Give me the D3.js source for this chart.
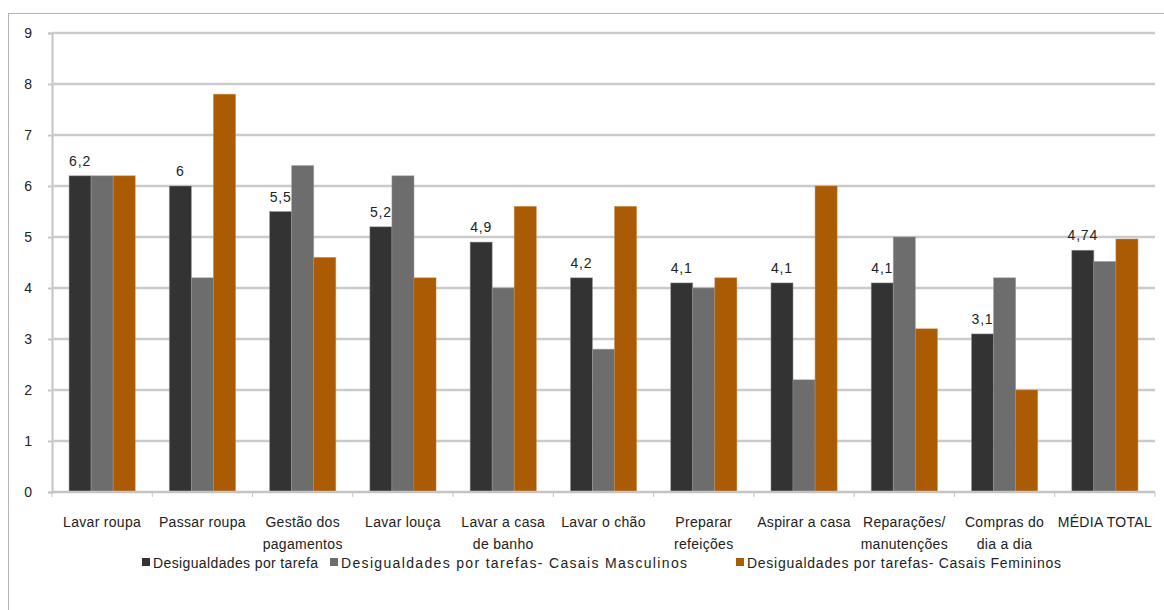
<!DOCTYPE html>
<html>
<head>
<meta charset="utf-8">
<script src="https://cdn.jsdelivr.net/npm/d3@7"></script>
<style>
  html, body { margin: 0; padding: 0; background: #fff; }
  svg { display: block; font-family: "Liberation Sans", Arial, sans-serif; }
</style>
</head>
<body>
<svg id="chart" width="1164" height="610"></svg>
<script>
// Task categories (multi-line labels split with "\n")
const categories = [
  "Lavar roupa", "Passar roupa", "Gestão dos\npagamentos", "Lavar louça",
  "Lavar a casa\nde banho", "Lavar o chão", "Preparar\nrefeições", "Aspirar a casa",
  "Reparações/\nmanutenções", "Compras do\ndia a dia", "MÉDIA TOTAL"
];
const seriesNames = [
  "Desigualdades por tarefa",
  "Desigualdades por tarefas- Casais Masculinos",
  "Desigualdades por tarefas- Casais Femininos"
];
const porTarefa = [6.2, 6, 5.5, 5.2, 4.9, 4.2, 4.1, 4.1, 4.1, 3.1, 4.74];
const casaisMasculinos = [6.2, 4.2, 6.4, 6.2, 4.0, 2.8, 4.0, 2.2, 5.0, 4.2, 4.52];
const casaisFemininos = [6.2, 7.8, 4.6, 4.2, 5.6, 5.6, 4.2, 6.0, 3.2, 2.0, 4.96];
const yTicks = [0, 1, 2, 3, 4, 5, 6, 7, 8, 9];
const dataLabels = ["6,2", "6", "5,5", "5,2", "4,9", "4,2", "4,1", "4,1", "4,1", "3,1", "4,74"];

const colors = ["#333333", "#6d6d6d", "#aa5b04"];
const seriesValues = [porTarefa, casaisMasculinos, casaisFemininos];

const svg = d3.select("#chart");

// Outer chart frame
svg.append("rect")
  .attr("x", 8.5).attr("y", 13.5)
  .attr("width", 1170).attr("height", 620)
  .attr("fill", "none").attr("stroke", "#b4b4b4").attr("stroke-width", 1);

const plot = { left: 52, right: 1155, top: 33, bottom: 492 };

const x = d3.scaleBand()
  .domain(d3.range(categories.length))
  .range([plot.left, plot.right])
  .paddingInner(0.34)
  .paddingOuter(0.17);

const xSub = d3.scaleBand()
  .domain(d3.range(seriesValues.length))
  .range([0, x.bandwidth()])
  .padding(0);

const y = d3.scaleLinear().domain([0, 9]).range([plot.bottom, plot.top]);

// Y axis with tick labels
const yAxis = d3.axisLeft(y).tickValues(yTicks).tickSize(4).tickPadding(16).tickFormat(d3.format("d"));
const gy = svg.append("g").attr("transform", `translate(${plot.left},0)`).call(yAxis);
gy.select(".domain").attr("stroke", "#c4c4c4").attr("stroke-width", 2);
gy.selectAll(".tick line").attr("stroke", "#c8c8c8").attr("stroke-width", 2);
gy.selectAll(".tick text").attr("fill", "#222").style("font-size", "14px");

// Horizontal gridlines
svg.append("g").selectAll("line")
  .data(yTicks.filter(d => d > 0))
  .join("line")
  .attr("x1", plot.left).attr("x2", plot.right)
  .attr("y1", d => y(d)).attr("y2", d => y(d))
  .attr("stroke", "#cbcbcb").attr("stroke-width", 2.5);

// Bars
const groups = svg.append("g").selectAll("g")
  .data(categories.map((c, i) => i))
  .join("g")
  .attr("transform", i => `translate(${x(i)},0)`);

groups.selectAll("rect")
  .data(i => seriesValues.map((vals, s) => ({ s, v: vals[i] })))
  .join("rect")
  .attr("x", d => xSub(d.s))
  .attr("width", xSub.bandwidth())
  .attr("y", d => y(d.v))
  .attr("height", d => y(0) - y(d.v))
  .attr("fill", d => colors[d.s])
  .attr("stroke", d => d.s === 2 ? "#c58a4d" : "#9a9a9a")
  .attr("stroke-width", 0.8)
  .attr("stroke-opacity", 0.6);

// Value labels above the first series
groups.append("text")
  .attr("x", xSub(0) + xSub.bandwidth() / 2)
  .attr("y", i => y(porTarefa[i]) - 10)
  .attr("text-anchor", "middle")
  .attr("fill", "#222")
  .style("font-size", "14px")
  .style("letter-spacing", "0.8px")
  .text(i => dataLabels[i]);

// X axis baseline with category ticks
const xAxisLine = svg.append("g");
xAxisLine.append("line")
  .attr("x1", plot.left).attr("x2", plot.right)
  .attr("y1", plot.bottom).attr("y2", plot.bottom)
  .attr("stroke", "#c4c4c4").attr("stroke-width", 2.5);
const step = (plot.right - plot.left) / categories.length;
xAxisLine.selectAll("line.t")
  .data(d3.range(categories.length + 1))
  .join("line").attr("class", "t")
  .attr("x1", i => plot.left + i * step).attr("x2", i => plot.left + i * step)
  .attr("y1", plot.bottom).attr("y2", plot.bottom + 5)
  .attr("stroke", "#c4c4c4").attr("stroke-width", 1);

// Category labels
const labels = svg.append("g").selectAll("text")
  .data(categories.map((c, i) => ({ c, i })))
  .join("text")
  .attr("x", d => plot.left + (d.i + 0.5) * step)
  .attr("y", 527)
  .attr("text-anchor", "middle")
  .attr("fill", "#222")
  .style("font-size", "14px")
  .style("letter-spacing", "0.3px");
labels.each(function(d) {
  const lines = d.c.split("\n");
  d3.select(this).selectAll("tspan")
    .data(lines)
    .join("tspan")
    .attr("x", plot.left + (d.i + 0.5) * step)
    .attr("dy", (l, k) => k === 0 ? 0 : 22)
    .text(l => l);
});

// Legend
const legendX = [142, 330, 736];
const legendWidths = [165, 346, 314];
const legend = svg.append("g").selectAll("g")
  .data(seriesNames.map((n, s) => ({ n, s })))
  .join("g")
  .attr("transform", d => `translate(${legendX[d.s]},563)`);
legend.append("rect")
  .attr("x", 0).attr("y", -5).attr("width", 8).attr("height", 8)
  .attr("fill", d => colors[d.s]);
legend.append("text")
  .attr("x", 11).attr("y", 5)
  .attr("fill", "#222")
  .style("font-size", "14px")
  .attr("textLength", d => legendWidths[d.s])
  .attr("lengthAdjust", "spacing")
  .text(d => d.n);
</script>
</body>
</html>
